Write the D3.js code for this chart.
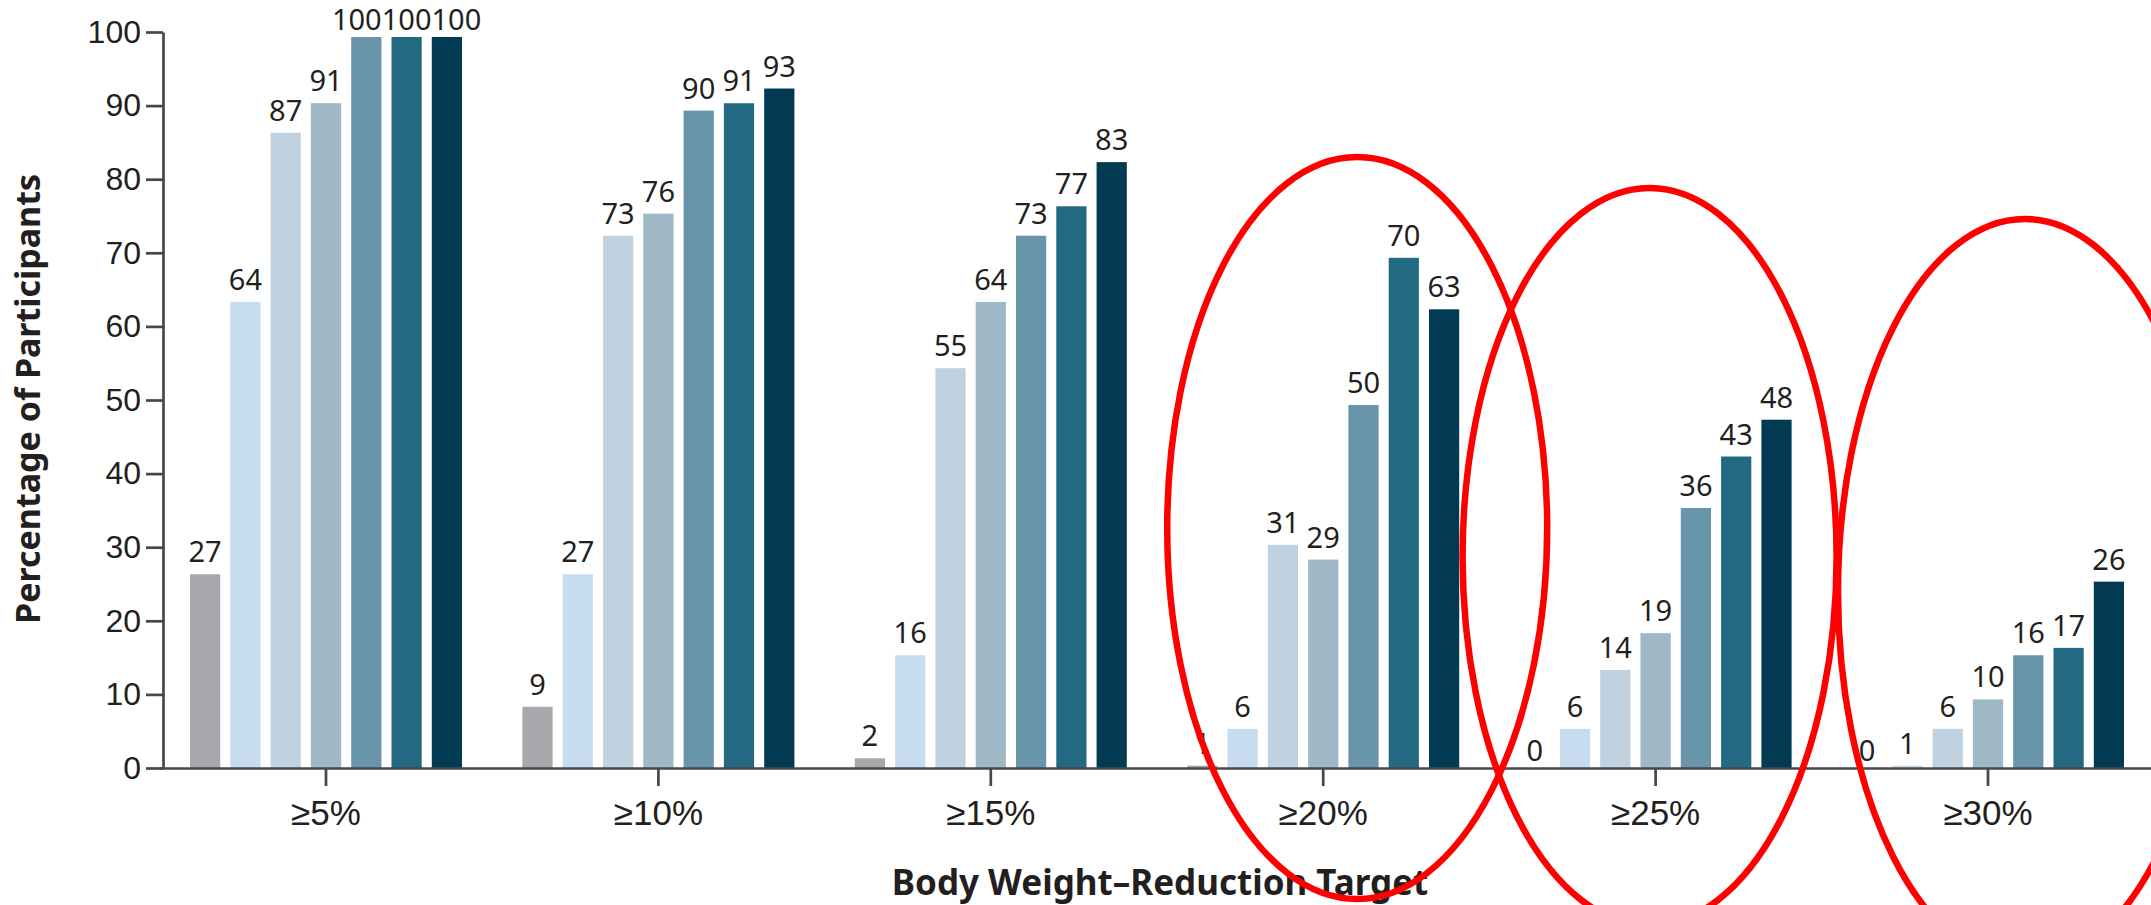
<!DOCTYPE html>
<html lang="en">
<head>
  <meta charset="UTF-8">
  <title>Body Weight-Reduction Target</title>
  <style>
    body { margin: 0; background: #fff; }
    svg { display: block; font-family: "Noto Sans", "Open Sans", sans-serif; }
    .axis path, .axis line { stroke: #474747; stroke-width: 2.7; }
    .axis text { fill: #231f20; }
    .bar-label { fill: #231f20; font-size: 29px; text-anchor: middle; }
    .title { fill: #231f20; font-weight: bold; text-anchor: middle; }
    .ring { fill: none; stroke: #ff0000; stroke-width: 6.5; }
  </style>
</head>
<body>
  <svg id="chart" width="2151" height="905"></svg>

  <script src="https://d3js.org/d3.v7.min.js"></script>
  <script>
    // targets on the x axis
    const targets = ["≥5%", "≥10%", "≥15%", "≥20%", "≥25%", "≥30%"];

    // one entry per dose group, same order as the bars in each cluster
    const series = [
      "Placebo",
      "1 mg",
      "4 mg (initial 2 mg)",
      "4 mg (initial 4 mg)",
      "8 mg (initial 2 mg)",
      "8 mg (initial 4 mg)",
      "12 mg"
    ];

    // percentage of participants reaching each target
    const placebo = [27, 9, 2, 1, 0, 0];
    const mg1     = [64, 27, 16, 6, 6, 1];
    const mg4a    = [87, 73, 55, 31, 14, 6];
    const mg4b    = [91, 76, 64, 29, 19, 10];
    const mg8a    = [100, 90, 73, 50, 36, 16];
    const mg8b    = [100, 91, 77, 70, 43, 17];
    const mg12    = [100, 93, 83, 63, 48, 26];
    const values = [placebo, mg1, mg4a, mg4b, mg8a, mg8b, mg12];

    const yTicks = [0, 10, 20, 30, 40, 50, 60, 70, 80, 90, 100];

    // targets circled in red on the figure
    const circled = ["≥20%", "≥25%", "≥30%"];

    const colors = ["#a7a8ab", "#c8dcf0", "#c0d1df", "#9eb8c6", "#6895aa", "#236982", "#023a53"];

    const svg = d3.select("#chart");
    const axisX = 163;
    const baseY = 768;
    const topY = 32;

    const y = d3.scaleLinear().domain([0, 100]).range([baseY, topY]);

    const step = 332.4;
    const x0 = d3.scaleBand()
      .domain(targets)
      .range([326 - step / 2, 326 - step / 2 + step * targets.length])
      .paddingInner(0).paddingOuter(0);

    const inner = 40.3 * series.length;
    const x1 = d3.scaleBand()
      .domain(series)
      .range([x0.bandwidth() / 2 - inner / 2, x0.bandwidth() / 2 + inner / 2])
      .paddingInner(0.25).paddingOuter(0.125);

    const color = d3.scaleOrdinal().domain(series).range(colors);

    const rows = [];
    targets.forEach((t, i) => {
      series.forEach((s, j) => rows.push({ target: t, series: s, value: values[j][i] }));
    });

    // bars sit a little below their nominal height, as in the source figure
    const inset = 5;

    const groups = svg.append("g")
      .selectAll("g")
      .data(targets)
      .join("g")
      .attr("transform", d => `translate(${x0(d)},0)`);

    groups.selectAll("rect")
      .data(t => rows.filter(r => r.target === t))
      .join("rect")
      .attr("x", d => x1(d.series))
      .attr("width", x1.bandwidth())
      .attr("y", d => y(d.value) + inset)
      .attr("height", d => Math.max(0, y(0) - y(d.value) - inset))
      .attr("fill", d => color(d.series));

    groups.selectAll("text")
      .data(t => rows.filter(r => r.target === t))
      .join("text")
      .attr("class", "bar-label")
      .attr("x", d => x1(d.series) + x1.bandwidth() / 2)
      .attr("y", d => Math.max(30, y(d.value) - 7))
      .text(d => d.value);

    // push apart labels that would run into each other (the three 100s)
    groups.each(function() {
      const labels = d3.select(this).selectAll("text").nodes();
      const items = labels.map(n => ({
        node: n,
        cx: +n.getAttribute("x"),
        y: +n.getAttribute("y"),
        w: n.getComputedTextLength()
      }));
      let cluster = [items[0]];
      const flush = () => {
        if (cluster.length > 1) {
          const total = d3.sum(cluster, c => c.w);
          let left = d3.mean(cluster, c => c.cx) - total / 2;
          cluster.forEach(c => {
            c.node.setAttribute("x", left + c.w / 2);
            left += c.w;
          });
        }
      };
      for (let i = 1; i < items.length; i++) {
        const a = items[i - 1], b = items[i];
        const hit = (b.cx - b.w / 2 < a.cx + a.w / 2) && Math.abs(a.y - b.y) < 20;
        if (hit) cluster.push(b);
        else { flush(); cluster = [b]; }
      }
      flush();
    });

    // axes
    svg.append("g")
      .attr("class", "axis")
      .attr("transform", `translate(0,${baseY})`)
      .call(d3.axisBottom(x0).tickSize(18).tickSizeOuter(0).tickPadding(14))
      .call(g => g.selectAll("text").attr("font-size", 35).attr("font-family", null));

    svg.append("g")
      .attr("class", "axis")
      .attr("transform", `translate(${axisX},0)`)
      .call(d3.axisLeft(y).tickValues(yTicks).tickSize(17).tickSizeOuter(0).tickPadding(5))
      .call(g => g.selectAll("text").attr("font-size", 32).attr("font-family", null));

    // titles
    svg.append("text")
      .attr("class", "title")
      .attr("transform", "translate(40,399) rotate(-90)")
      .attr("font-size", 34)
      .text("Percentage of Participants");

    svg.append("text")
      .attr("class", "title")
      .attr("x", 1160)
      .attr("y", 895)
      .attr("font-size", 35)
      .text("Body Weight–Reduction Target");

    // hand-drawn red rings around the last three targets
    const rings = [
      { target: "≥20%", dx: 34, mid: 32.6, span: 50.4, rx: 190 },
      { target: "≥25%", dx: -6, mid: 28.7, span: 50.1, rx: 187 },
      { target: "≥30%", dx: 37, mid: 23.9, span: 50.7, rx: 187 }
    ].filter(r => circled.includes(r.target));

    svg.append("g")
      .selectAll("ellipse")
      .data(rings)
      .join("ellipse")
      .attr("class", "ring")
      .attr("cx", d => x0(d.target) + x0.bandwidth() / 2 + d.dx)
      .attr("cy", d => y(d.mid))
      .attr("rx", d => d.rx)
      .attr("ry", d => y(0) - y(d.span));
  </script>
</body>
</html>
